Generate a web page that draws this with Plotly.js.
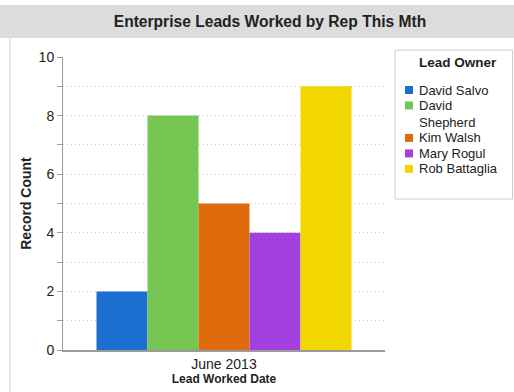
<!DOCTYPE html>
<html>
<head>
<meta charset="utf-8">
<script src="https://cdn.plot.ly/plotly-3.0.1.min.js"></script>
<style>
  html, body { margin: 0; padding: 0; background: #ffffff; }
  #chart { width: 514px; height: 392px; }
</style>
</head>
<body>
<div id="chart"></div>
<script>
// Leads worked per rep, single month
const period = ["June 2013"];
const owners = ["David Salvo", "David Shepherd", "Kim Walsh", "Mary Rogul", "Rob Battaglia"];
const recordCounts = [2, 8, 5, 4, 9];
const ownerColors = ["#1a6fd1", "#76c653", "#e06b0c", "#a43fe0", "#f2d600"];

const font = "Liberation Sans, Arial, Helvetica, sans-serif";
const ink = "#222222";

const W = 514, H = 392;
const M = { l: 63, r: 129, t: 57, b: 42 };
const PW = W - M.l - M.r, PH = H - M.t - M.b;
// page pixel -> paper coordinates
const px = x => (x - M.l) / PW;
const py = y => (H - M.b - y) / PH;

const traces = owners.map((name, i) => ({
  type: "bar",
  name: name,
  x: period,
  y: [recordCounts[i]],
  marker: { color: ownerColors[i], line: { width: 0 } },
  showlegend: false,
  hoverinfo: "name+y"
}));

// Boxed legend on the right, long names wrapped onto two lines
const LEG_FONT = 13, LINE = 16.9, ROW = 15.5;
const shapes = [
  // header band
  { type: "rect", xref: "paper", yref: "paper", layer: "below",
    x0: px(0), x1: px(W), y0: py(38), y1: py(5),
    fillcolor: "#dcdcdc", line: { width: 0 } },
  // panel left border
  { type: "line", xref: "paper", yref: "paper", layer: "below",
    x0: px(10), x1: px(10), y0: py(38), y1: py(H),
    line: { color: "#e2e2e2", width: 1.5 } },
  // legend frame
  { type: "rect", xref: "paper", yref: "paper",
    x0: px(395), x1: px(512.5), y0: py(199), y1: py(50),
    fillcolor: "#ffffff", line: { color: "#cccccc", width: 1 } }
];
const annotations = [
  { xref: "paper", yref: "paper", x: px(458), y: py(63),
    xanchor: "center", yanchor: "middle", showarrow: false,
    text: "<b>Lead Owner</b>", font: { family: font, size: 13.5, color: ink } }
];
let rowY = 90;
owners.forEach((name, i) => {
  const cut = name.indexOf(" ");
  const lines = name.length > 13 ? [name.slice(0, cut), name.slice(cut + 1)] : [name];
  shapes.push({ type: "rect", xref: "paper", yref: "paper",
    x0: px(405), x1: px(413), y0: py(rowY + 4), y1: py(rowY - 4),
    fillcolor: ownerColors[i], line: { width: 0 } });
  const extra = LINE * (lines.length - 1);
  annotations.push({ xref: "paper", yref: "paper", x: px(417), y: py(rowY + extra / 2),
    xanchor: "left", yanchor: "middle", align: "left", showarrow: false,
    text: lines.join("<br>"), font: { family: font, size: LEG_FONT, color: ink } });
  rowY += extra + ROW;
});

const grid = { gridcolor: "#cfcfcf", griddash: "1px,3px", gridwidth: 1 };

const layout = {
  width: W,
  height: H,
  margin: M,
  paper_bgcolor: "#ffffff",
  plot_bgcolor: "#ffffff",
  font: { family: font, size: 14, color: ink },
  barmode: "group",
  bargap: 0.208,
  bargroupgap: 0,
  title: {
    text: "<b>Enterprise Leads Worked by Rep This Mth</b>",
    font: { family: font, size: 15.6, color: ink },
    xref: "container", yref: "container",
    x: 270 / W, y: 1 - 22 / H,
    xanchor: "center", yanchor: "middle"
  },
  xaxis: {
    showline: true, linecolor: "#9a9a9a", linewidth: 2,
    ticks: "", showgrid: false, automargin: false,
    tickfont: { family: font, size: 14, color: ink },
    title: {
      text: "<b>Lead Worked Date</b>",
      font: { family: font, size: 12, color: ink },
      standoff: 2
    }
  },
  yaxis: {
    range: [0, 10],
    dtick: 2, tick0: 0, automargin: false,
    showline: true, linecolor: "#9a9a9a", linewidth: 1,
    ticks: "outside", ticklen: 5, tickcolor: "#9a9a9a",
    showgrid: true, ...grid,
    zeroline: false,
    minor: {
      dtick: 1, ticks: "outside", ticklen: 5, tickcolor: "#9a9a9a",
      showgrid: true, ...grid
    },
    tickfont: { family: font, size: 14, color: ink },
    title: {
      text: "<b>Record Count</b>",
      font: { family: font, size: 14, color: ink },
      standoff: 3
    }
  },
  shapes: shapes,
  annotations: annotations
};

Plotly.newPlot("chart", traces, layout, { displayModeBar: false, staticPlot: true });
</script>
</body>
</html>
